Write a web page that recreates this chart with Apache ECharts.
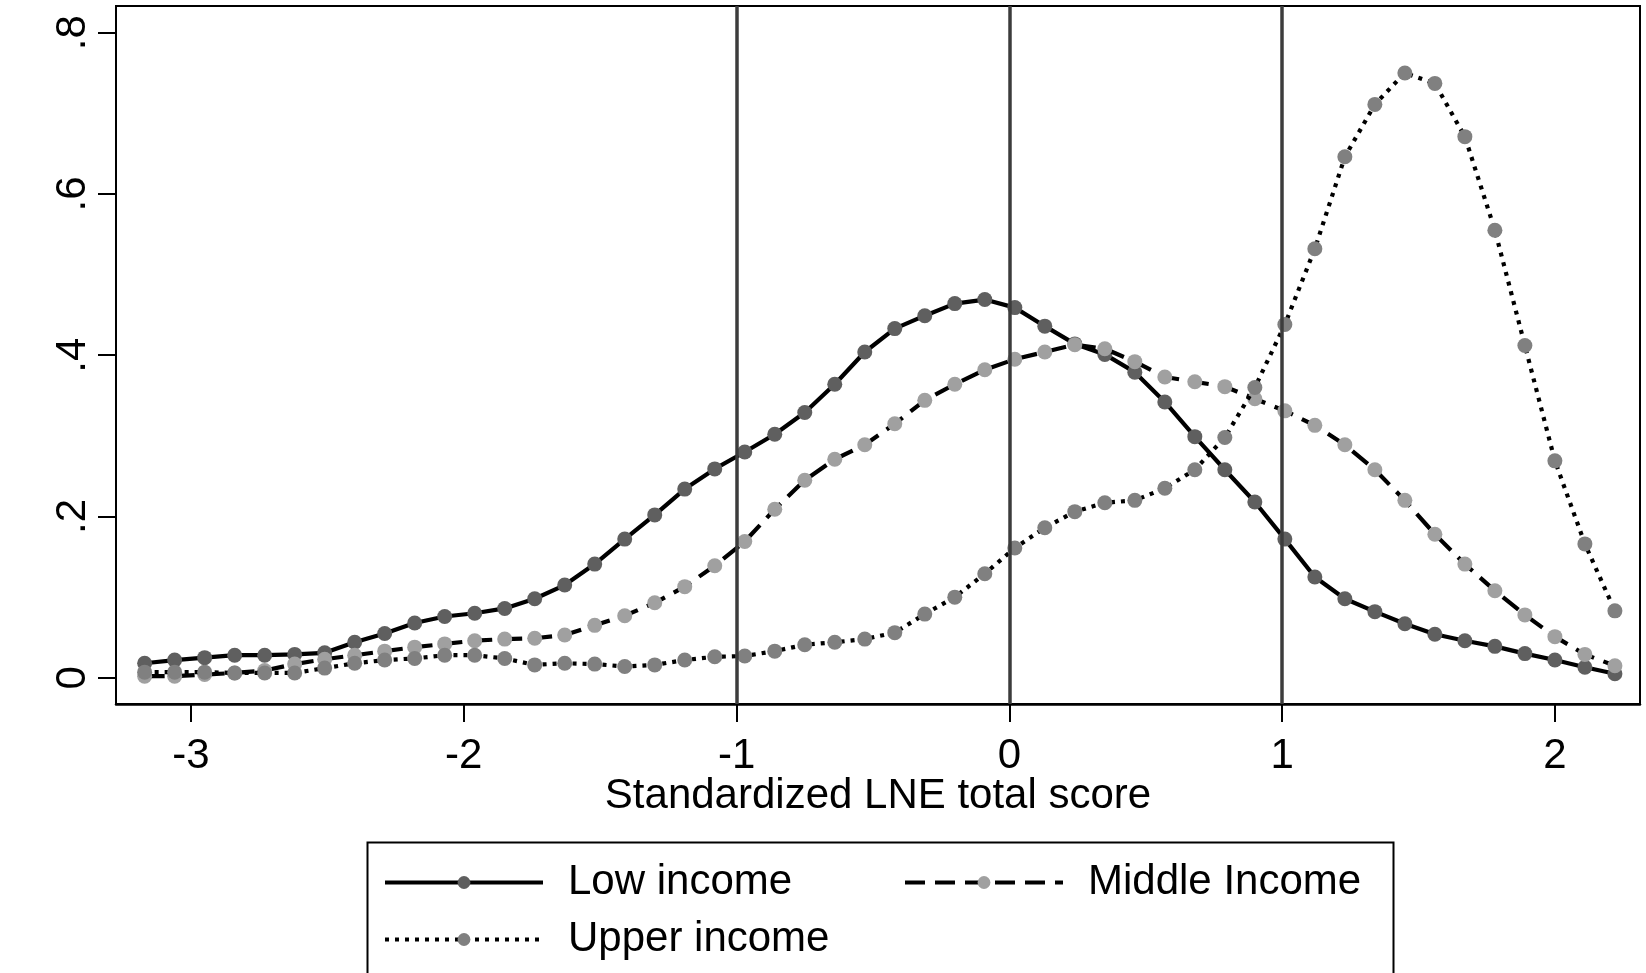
<!DOCTYPE html>
<html>
<head>
<meta charset="utf-8">
<script src="https://cdn.jsdelivr.net/npm/echarts@6/dist/echarts.min.js"></script>
<style>
html,body{margin:0;padding:0;background:#fff;}
#chart{width:1646px;height:973px;}
</style>
</head>
<body>
<div id="chart"></div>
<script>
// Evaluation points (standardized LNE total score)
var scoreX = [-3.17, -3.06, -2.95, -2.84, -2.73, -2.62, -2.51, -2.40, -2.29, -2.18,
              -2.07, -1.96, -1.85, -1.74, -1.63, -1.52, -1.41, -1.30, -1.19, -1.08,
              -0.97, -0.86, -0.75, -0.64, -0.53, -0.42, -0.31, -0.20, -0.09, 0.02,
               0.13,  0.24,  0.35,  0.46,  0.57,  0.68,  0.79,  0.90,  1.01, 1.12,
               1.23,  1.34,  1.45,  1.56,  1.67,  1.78,  1.89,  2.00,  2.11, 2.22];

var lowIncome = [0.018, 0.022, 0.025, 0.028, 0.028, 0.029, 0.031, 0.044, 0.055, 0.068,
                 0.076, 0.080, 0.086, 0.098, 0.115, 0.141, 0.172, 0.202, 0.234, 0.259,
                 0.280, 0.302, 0.329, 0.364, 0.404, 0.433, 0.449, 0.464, 0.469, 0.459,
                 0.436, 0.414, 0.401, 0.379, 0.342, 0.299, 0.258, 0.218, 0.172, 0.125,
                 0.098, 0.082, 0.067, 0.054, 0.046, 0.039, 0.030, 0.022, 0.013, 0.005];

var middleIncome = [0.002, 0.002, 0.004, 0.006, 0.009, 0.017, 0.023, 0.028, 0.033, 0.038,
                    0.042, 0.046, 0.048, 0.049, 0.053, 0.065, 0.077, 0.093, 0.113, 0.139,
                    0.169, 0.209, 0.245, 0.271, 0.289, 0.315, 0.344, 0.364, 0.382, 0.395,
                    0.404, 0.413, 0.408, 0.392, 0.373, 0.367, 0.361, 0.346, 0.331, 0.313,
                    0.289, 0.258, 0.220, 0.178, 0.141, 0.108, 0.078, 0.051, 0.029, 0.015];

var upperIncome = [0.007, 0.007, 0.007, 0.006, 0.006, 0.006, 0.012, 0.018, 0.022, 0.024,
                   0.028, 0.028, 0.024, 0.016, 0.018, 0.017, 0.014, 0.016, 0.022, 0.026,
                   0.027, 0.033, 0.041, 0.044, 0.048, 0.056, 0.079, 0.100, 0.129, 0.161,
                   0.186, 0.206, 0.217, 0.220, 0.235, 0.258, 0.298, 0.360, 0.438, 0.532,
                   0.646, 0.711, 0.750, 0.737, 0.671, 0.555, 0.412, 0.269, 0.166, 0.083];

var seriesNames = ['Low income', 'Middle Income', 'Upper income'];
var xTicks = [-3, -2, -1, 0, 1, 2];
var yTicks = [0, 0.2, 0.4, 0.6, 0.8];
var refLines = [-1, 0, 1];
var xTitle = 'Standardized LNE total score';

function pairs(ys) { return scoreX.map(function (x, i) { return [x, ys[i]]; }); }

var FONT = '"Liberation Sans", Arial, Helvetica, sans-serif';
var chart = echarts.init(document.getElementById('chart'), null, {renderer: 'canvas'});

var option = {
  animation: false,
  backgroundColor: '#ffffff',
  textStyle: {fontFamily: FONT},
  grid: {
    left: 116, right: 6, top: 6, bottom: 269,
    show: true, borderColor: '#000', borderWidth: 2, backgroundColor: 'transparent'
  },
  xAxis: {
    type: 'value', min: -3.275, max: 2.312,
    axisLine: {onZero: false, lineStyle: {color: '#000', width: 2.5}},
    axisTick: {show: true, length: 18, lineStyle: {color: '#000', width: 2}, customValues: xTicks},
    axisLabel: {customValues: xTicks, color: '#000', fontSize: 42, fontFamily: FONT, margin: 31,
      formatter: function (v) { return String(v); }},
    splitLine: {show: false},
    name: xTitle, nameLocation: 'middle', nameGap: 71, nameMoveOverlap: false,
    nameTextStyle: {color: '#000', fontSize: 42, fontFamily: FONT}
  },
  yAxis: {
    type: 'value', min: -0.0325, max: 0.833,
    axisLine: {show: true, onZero: false, lineStyle: {color: '#000', width: 2}},
    axisTick: {show: true, length: 18, lineStyle: {color: '#000', width: 2}, customValues: yTicks},
    axisLabel: {customValues: yTicks, color: '#000', fontSize: 42, fontFamily: FONT, rotate: 90, margin: 22,
      formatter: function (v) { return v === 0 ? '0' : String(Math.round(v * 10) / 10).replace(/^0\./, '.'); }},
    splitLine: {show: false}
  },
  legend: {
    left: 383, top: 854, padding: 0, itemGap: 0,
    itemWidth: 158, itemHeight: 16,
    lineStyle: {width: 4},
    data: ['Low income', 'Middle Income', '', 'Upper income'],
    textStyle: {color: '#000', fontSize: 42, fontFamily: FONT, width: 335, lineHeight: 57, padding: [0, 0, 0, 20]}
  },
  graphic: [{
    type: 'rect', left: 365, top: 840, silent: true,
    shape: {width: 1026, height: 200},
    style: {fill: 'none', stroke: '#000', lineWidth: 2}
  }],
  series: [
    {
      type: 'line', name: 'ref', data: [], z: 1, silent: true,
      markLine: {
        silent: true, symbol: 'none', label: {show: false},
        lineStyle: {color: '#3c3c3c', width: 3.5, type: 'solid'},
        data: refLines.map(function (v) { return {xAxis: v}; })
      }
    },
    {
      type: 'line', name: seriesNames[0], data: pairs(lowIncome), z: 2,
      symbol: 'circle', symbolSize: 15, showAllSymbol: true,
      lineStyle: {color: '#000', width: 4.2, type: 'solid'},
      itemStyle: {color: '#5f5f5f', borderWidth: 0}
    },
    {
      type: 'line', name: seriesNames[1], data: pairs(middleIncome), z: 3,
      symbol: 'circle', symbolSize: 15, showAllSymbol: true,
      lineStyle: {color: '#000', width: 4.2, type: [20, 10]},
      itemStyle: {color: '#a0a0a0', borderWidth: 0}
    },
    {
      type: 'line', name: seriesNames[2], data: pairs(upperIncome), z: 4,
      symbol: 'circle', symbolSize: 15, showAllSymbol: true,
      lineStyle: {color: '#000', width: 4.2, type: [4, 6]},
      itemStyle: {color: '#808080', borderWidth: 0}
    }
  ]
};
chart.setOption(option);
</script>
</body>
</html>
